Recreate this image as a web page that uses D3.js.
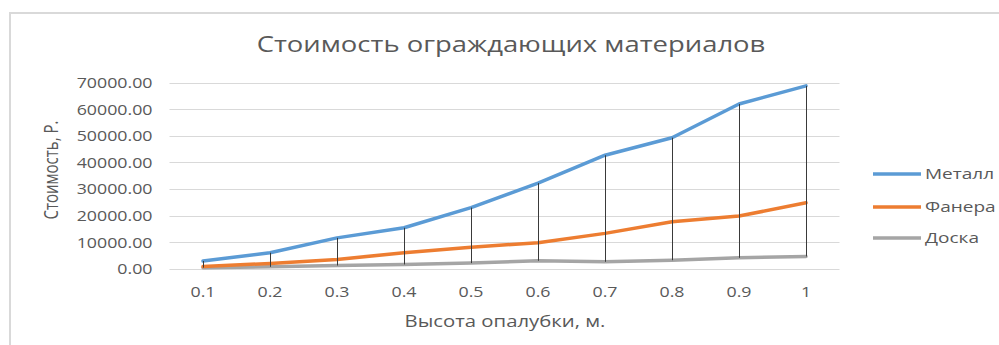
<!DOCTYPE html>
<html>
<head>
<meta charset="utf-8">
<script src="https://cdn.jsdelivr.net/npm/d3@7"></script>
<style>
  html, body { margin: 0; padding: 0; background: #fff; }
  svg { display: block; }
  text { font-family: "Open Sans", "Noto Sans", sans-serif; fill: #595959; }
</style>
</head>
<body>
<svg id="chart" width="999" height="345"></svg>
<script>
// Chart data
const heights = ["0.1", "0.2", "0.3", "0.4", "0.5", "0.6", "0.7", "0.8", "0.9", "1"];
const metal   = [2900, 6000, 11600, 15400, 23000, 32200, 42700, 49300, 62000, 68800];
const plywood = [800, 2000, 3500, 6000, 8100, 9800, 13300, 17700, 19800, 24800];
const board   = [400, 700, 1200, 1600, 2100, 3000, 2600, 3200, 4100, 4600];
const seriesNames = ["Металл", "Фанера", "Доска"];
const seriesColors = ["#5b9bd5", "#ed7d31", "#a5a5a5"];
const yTicks = [0, 10000, 20000, 30000, 40000, 50000, 60000, 70000];

const titleText = "Стоимость ограждающих материалов";
const xTitle = "Высота опалубки, м.";
const yTitle = "Стоимость, Р.";

// Horizontal stretch applied to all text glyphs
const sx = 1.27;

const svg = d3.select("#chart");

// Outer chart frame
svg.append("rect")
  .attr("x", 10).attr("y", 13)
  .attr("width", 1010).attr("height", 360)
  .attr("fill", "none")
  .attr("stroke", "#d9d9d9")
  .attr("stroke-width", 2);

const plot = { left: 169.5, right: 839.5, top: 82.7, bottom: 268.7 };

const x = d3.scaleBand().domain(heights).range([plot.left, plot.right]);
const y = d3.scaleLinear().domain([0, 70000]).range([plot.bottom, plot.top]);
const cx = d => x(d) + x.bandwidth() / 2;

// Gridlines
svg.append("g")
  .selectAll("line")
  .data(yTicks)
  .join("line")
  .attr("x1", plot.left).attr("x2", plot.right)
  .attr("y1", d => Math.round(y(d)) + 0.5).attr("y2", d => Math.round(y(d)) + 0.5)
  .attr("stroke", "#d9d9d9")
  .attr("stroke-width", 1);

// Y axis labels
const yAxis = svg.append("g")
  .attr("transform", `translate(${plot.left},0)`)
  .call(d3.axisLeft(y).tickValues(yTicks).tickFormat(d3.format(".2f")).tickSize(0));
yAxis.select(".domain").remove();
yAxis.selectAll("text")
  .attr("x", 0)
  .attr("dy", "0.35em")
  .attr("text-anchor", "end")
  .attr("transform", `translate(-17,0) scale(${sx},1)`)
  .style("font-size", "14px")
  .style("font-family", "'Open Sans', sans-serif")
  .attr("fill", "#595959");

// X axis labels
const xAxis = svg.append("g")
  .attr("transform", `translate(0,${plot.bottom})`)
  .call(d3.axisBottom(x).tickSize(0));
xAxis.select(".domain").remove();
xAxis.selectAll("text")
  .attr("y", 0)
  .attr("dy", 0)
  .attr("transform", `translate(0,28) scale(${sx},1)`)
  .style("font-size", "14px")
  .style("font-family", "'Open Sans', sans-serif")
  .attr("fill", "#595959");

// Series lines
const series = [metal, plywood, board];
const line = d3.line()
  .x((d, i) => cx(heights[i]))
  .y(d => y(d));

svg.append("g")
  .selectAll("path")
  .data(series.slice().reverse())
  .join("path")
  .attr("d", d => line(d))
  .attr("fill", "none")
  .attr("stroke", (d, i) => seriesColors[series.length - 1 - i])
  .attr("stroke-width", 3.5)
  .attr("stroke-linejoin", "round")
  .attr("stroke-linecap", "round");

// High-low lines spanning the series at each height
svg.append("g")
  .selectAll("line")
  .data(heights)
  .join("line")
  .attr("x1", d => Math.round(cx(d)) + 0.5)
  .attr("x2", d => Math.round(cx(d)) + 0.5)
  .attr("y1", (d, i) => y(d3.max(series, s => s[i])))
  .attr("y2", (d, i) => y(d3.min(series, s => s[i])))
  .attr("stroke", "#3a3a3a")
  .attr("stroke-width", 1);

// Title
svg.append("text")
  .attr("transform", `translate(511,52) scale(${sx},1)`)
  .attr("text-anchor", "middle")
  .style("font-size", "21.6px")
  .text(titleText);

// Axis titles
svg.append("text")
  .attr("transform", `translate(505,327) scale(${sx},1)`)
  .attr("text-anchor", "middle")
  .style("font-size", "16px")
  .text(xTitle);

svg.append("text")
  .attr("transform", `translate(58,170) scale(${sx},1) rotate(-90)`)
  .attr("text-anchor", "middle")
  .style("font-size", "15px")
  .text(yTitle);

// Legend
const legendY = [174, 207, 238];
const legend = svg.append("g")
  .selectAll("g")
  .data(seriesNames)
  .join("g")
  .attr("transform", (d, i) => `translate(873,${legendY[i]})`);
legend.append("line")
  .attr("x1", 0).attr("x2", 48)
  .attr("y1", 0).attr("y2", 0)
  .attr("stroke", (d, i) => seriesColors[i])
  .attr("stroke-width", 3.5);
legend.append("text")
  .attr("transform", `translate(52,0) scale(${sx},1)`)
  .attr("dy", "0.35em")
  .style("font-size", "15px")
  .text(d => d);
</script>
</body>
</html>
